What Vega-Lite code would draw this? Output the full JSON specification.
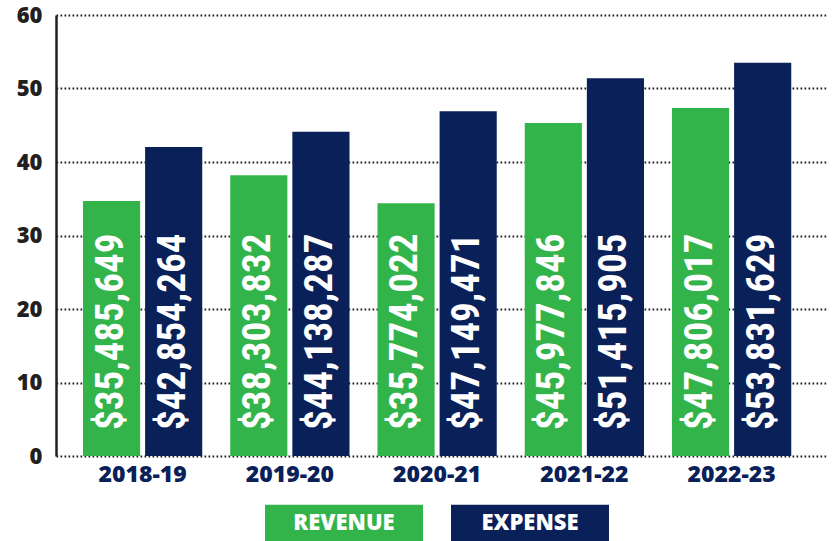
{
  "$schema": "https://vega.github.io/schema/vega-lite/v6.json",
  "width": 771,
  "height": 441,
  "autosize": {"type": "none"},
  "padding": {"left": 56, "top": 15, "right": 7, "bottom": 85},
  "background": "white",
  "config": {
    "view": {"stroke": null},
    "font": "Open Sans"
  },
  "data": {
    "values": [
      {"year": "2018-19", "series": "REVENUE", "value": 34.7, "label": "$35,485,649"},
      {"year": "2018-19", "series": "EXPENSE", "value": 42.05, "label": "$42,854,264"},
      {"year": "2019-20", "series": "REVENUE", "value": 38.2, "label": "$38,303,832"},
      {"year": "2019-20", "series": "EXPENSE", "value": 44.1, "label": "$44,138,287"},
      {"year": "2020-21", "series": "REVENUE", "value": 34.4, "label": "$35,774,022"},
      {"year": "2020-21", "series": "EXPENSE", "value": 46.9, "label": "$47,149,471"},
      {"year": "2021-22", "series": "REVENUE", "value": 45.3, "label": "$45,977,846"},
      {"year": "2021-22", "series": "EXPENSE", "value": 51.4, "label": "$51,415,905"},
      {"year": "2022-23", "series": "REVENUE", "value": 47.35, "label": "$47,806,017"},
      {"year": "2022-23", "series": "EXPENSE", "value": 53.5, "label": "$53,831,629"}
    ]
  },
  "encoding": {
    "x": {
      "field": "year",
      "type": "nominal",
      "title": null,
      "scale": {"paddingInner": 0.19, "paddingOuter": 0.213, "align": 0.43},
      "axis": {
        "domain": false,
        "ticks": false,
        "labelAngle": 0,
        "labelFont": "Open Sans",
        "labelFontWeight": 800,
        "labelFontSize": 23,
        "labelColor": "#0a2059",
        "labelPadding": 7
      }
    },
    "xOffset": {
      "field": "series",
      "type": "nominal",
      "sort": ["REVENUE", "EXPENSE"],
      "scale": {"paddingInner": 0.08, "paddingOuter": 0}
    }
  },
  "layer": [
    {
      "mark": {"type": "bar"},
      "encoding": {
        "y": {
          "field": "value",
          "type": "quantitative",
          "title": null,
          "scale": {"domain": [0, 60], "nice": false},
          "axis": {
            "values": [0, 10, 20, 30, 40, 50, 60],
            "domain": true,
            "domainColor": "#231f20",
            "domainWidth": 2.5,
            "ticks": false,
            "grid": true,
            "gridColor": "#231f20",
            "gridDash": [1.7, 2.3],
            "gridWidth": 2,
            "gridOpacity": 1,
            "labelFont": "Open Sans",
            "labelFontWeight": 800,
            "labelFontSize": 22,
            "labelColor": "#231f20",
            "labelPadding": 14
          }
        },
        "color": {
          "field": "series",
          "type": "nominal",
          "sort": ["REVENUE", "EXPENSE"],
          "scale": {"domain": ["REVENUE", "EXPENSE"], "range": ["#33b44a", "#0a2059"]},
          "legend": {
            "title": null,
            "orient": "none",
            "legendX": 209,
            "legendY": 429,
            "padding": 0,
            "direction": "horizontal",
            "symbolType": "M-1,-0.234H1V0.234H-1Z",
            "symbolSize": 24964,
            "symbolStrokeWidth": 0,
            "symbolOpacity": 1,
            "labelOffset": -79,
            "labelAlign": "center",
            "labelBaseline": "middle",
            "labelColor": "white",
            "labelFont": "Open Sans",
            "labelFontWeight": 800,
            "labelFontSize": 22,
            "columnPadding": 28
          }
        }
      }
    },
    {
      "mark": {
        "type": "text",
        "angle": 270,
        "align": "left",
        "baseline": "middle",
        "dx": 26,
        "dy": -1,
        "font": "Roboto Condensed, Open Sans Condensed, Liberation Sans Narrow, DejaVu Sans Condensed, Arial Narrow, sans-serif",
        "fontWeight": "bold",
        "fontSize": 39,
        "color": "white"
      },
      "encoding": {
        "y": {"datum": 0, "type": "quantitative"},
        "text": {"field": "label"}
      }
    }
  ]
}
